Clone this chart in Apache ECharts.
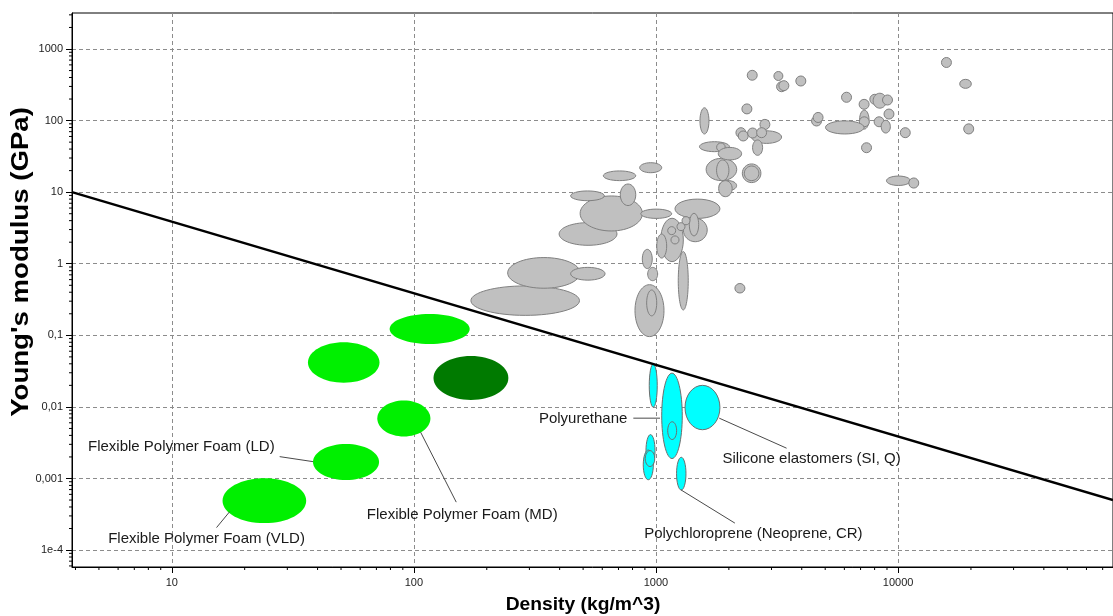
<!DOCTYPE html>
<html>
<head>
<meta charset="utf-8">
<title>Young's modulus vs density</title>
<script src="https://cdn.jsdelivr.net/npm/echarts@6/dist/echarts.min.js"></script>
<style>
  html, body { margin: 0; padding: 0; background: #fff; }
  #chart { width: 1113px; height: 616px; }
</style>
</head>
<body>
<div id="chart"></div>
<script>
// Each material: [density min, density max (kg/m^3), modulus min, modulus max (GPa)]
const otherMaterials = [
  [172, 483, 0.19, 0.49],
  [244, 486, 0.455, 1.22],
  [444, 616, 0.59, 0.89],
  [398, 690, 1.81, 3.75],
  [486, 879, 2.87, 8.85],
  [444, 612, 7.6, 10.4],
  [712, 825, 6.5, 13],
  [606, 825, 14.5, 19.8],
  [856, 1056, 18.7, 25.8],
  [865, 1161, 4.3, 5.8],
  [878, 965, 0.855, 1.59],
  [924, 1016, 0.58, 0.89],
  [819, 1079, 0.096, 0.51],
  [915, 1007, 0.187, 0.43],
  [1198, 1837, 4.3, 8.0],
  [1046, 1297, 1.07, 4.32],
  [1297, 1628, 2.03, 4.33],
  [1373, 1501, 2.45, 5.06],
  [1007, 1107, 1.2, 2.6],
  [1118, 1206, 2.55, 3.3],
  [1221, 1318, 2.9, 3.75],
  [1153, 1245, 1.89, 2.45],
  [1281, 1382, 3.5, 4.55],
  [1236, 1359, 0.226, 1.48],
  [2118, 2330, 0.39, 0.53],
  [1611, 2156, 14.5, 29.7],
  [1779, 2001, 14.5, 28.2],
  [1825, 2153, 10.5, 14.5],
  [1815, 2064, 8.65, 14.5],
  [2273, 2713, 13.6, 24.8],
  [2317, 2661, 14.5, 23.2],
  [1519, 1655, 65, 151],
  [1512, 2011, 36.8, 50.7],
  [1780, 1932, 36.9, 48.7],
  [1808, 2258, 28.2, 42.2],
  [2264, 2490, 124, 171],
  [2382, 2619, 366, 504],
  [3069, 3343, 363, 485],
  [3149, 3463, 253, 349],
  [3218, 3539, 262, 361],
  [3781, 4159, 304, 420],
  [2483, 3302, 48, 72],
  [2139, 2352, 57.7, 79.6],
  [2186, 2404, 51.9, 71.6],
  [2390, 2628, 57.1, 78.8],
  [2687, 2954, 75, 104],
  [2506, 2757, 32.7, 53.6],
  [2604, 2863, 57.7, 79.6],
  [5840, 6423, 180, 249],
  [6902, 7592, 144, 198],
  [7643, 8403, 169, 233],
  [7887, 8955, 149, 241],
  [8623, 9482, 165, 228],
  [8747, 9616, 105, 145],
  [6935, 7585, 76, 140],
  [6915, 7606, 82, 113],
  [7962, 8755, 82, 113],
  [8516, 9293, 67, 101],
  [4391, 4829, 84, 116],
  [4459, 4900, 94, 130],
  [5014, 7238, 65, 99],
  [7063, 7769, 35.6, 49],
  [10209, 11228, 57.7, 79.6],
  [15107, 16610, 552, 761],
  [17973, 20069, 282, 377],
  [18667, 20533, 65, 90],
  [8955, 11248, 12.4, 16.8],
  [11068, 12172, 11.4, 15.8]
];

// Flexible polymer foams (VLD, LD, MD) and two further flexible foams
const flexibleFoams = [
  [16.2, 35.9, 0.000238, 0.00101],
  [38.3, 71.8, 0.000955, 0.00304],
  [70.6, 117, 0.00385, 0.01225],
  [36.5, 72.1, 0.0218, 0.0801],
  [79.4, 170, 0.0759, 0.199]
];

// Denser foam shown in dark green
const denseFoams = [
  [120.5, 245.6, 0.01253, 0.0515]
];

// Elastomers: polyurethane, silicone, polychloroprene and others
const elastomers = [
  [938, 1012, 0.0099, 0.0399],
  [1056, 1284, 0.0019, 0.0296],
  [1118, 1217, 0.0035, 0.0062],
  [1318, 1837, 0.0048, 0.020],
  [909, 991, 0.00145, 0.0041],
  [886, 975, 0.00096, 0.0025],
  [903, 988, 0.00147, 0.00245],
  [1216, 1330, 0.00069, 0.00198]
];

// Selection guide line
const guideDensity = [3.87, 77230];
const guideModulus = [10, 0.000501];

// Axis ticks
const densityTicks = [10, 100, 1000, 10000];
const densityTickLabels = ['10', '100', '1000', '10000'];
const modulusTicks = [1e-4, 1e-3, 1e-2, 1e-1, 1, 10, 100, 1000];
const modulusTickLabels = ['1e-4', '0,001', '0,01', '0,1', '1', '10', '100', '1000'];

// Callout texts, the point each one refers to and where its leader ends
const calloutTexts = [
  'Flexible Polymer Foam (LD)',
  'Flexible Polymer Foam (VLD)',
  'Flexible Polymer Foam (MD)',
  'Polyurethane',
  'Silicone elastomers (SI, Q)',
  'Polychloroprene (Neoprene, CR)'
];
const calloutTargets = [
  [38.3, 0.00172],
  [17.35, 0.000345],
  [106.6, 0.00443],
  [1039, 0.00696],
  [1825, 0.00696],
  [1268, 0.000693]
];
const calloutLeaderEnds = [
  [27.9, 0.00202],
  [15.3, 0.000206],
  [149.6, 0.000467],
  [806, 0.00696],
  [3463, 0.00265],
  [2118, 0.000238]
];

// Text placement relative to the leader end (pixels)
const calloutLayout = [
  { dx: -5, dy: -10, align: 'right' },
  { dx: -10, dy: 11.6, align: 'center' },
  { dx: 6, dy: 12.7, align: 'center' },
  { dx: -6, dy: 0.7, align: 'right' },
  { dx: 25, dy: 11, align: 'center' },
  { dx: 18.5, dy: 10.7, align: 'center' }
];

const X_RANGE = [3.87, 77230];
const Y_RANGE = [5.8e-5, 3184];
const GRID = { left: 72, top: 13, width: 1042, height: 554 };
const FONT = '"Liberation Sans", Arial, sans-serif';

function labelFor(ticks, labels) {
  return function (v) {
    for (let i = 0; i < ticks.length; i++) {
      if (Math.abs(Math.log10(ticks[i]) - Math.log10(v)) < 1e-6) return labels[i];
    }
    return '';
  };
}

function ellipseSeries(name, rows, fill, stroke, z) {
  return {
    type: 'custom',
    name: name,
    coordinateSystem: 'cartesian2d',
    silent: true,
    clip: true,
    z: z,
    encode: { x: [0, 1], y: [2, 3] },
    data: rows,
    renderItem: function (params, api) {
      const a = api.coord([api.value(0), api.value(2)]);
      const b = api.coord([api.value(1), api.value(3)]);
      return {
        type: 'ellipse',
        shape: {
          cx: (a[0] + b[0]) / 2,
          cy: (a[1] + b[1]) / 2,
          rx: Math.abs(b[0] - a[0]) / 2,
          ry: Math.abs(b[1] - a[1]) / 2
        },
        style: { fill: fill, stroke: stroke, lineWidth: stroke ? 1 : 0 }
      };
    }
  };
}

const chart = echarts.init(document.getElementById('chart'), null, { renderer: 'canvas' });

const option = {
  animation: false,
  backgroundColor: '#ffffff',
  grid: Object.assign({ show: true, borderColor: '#000', borderWidth: 1, backgroundColor: 'transparent' }, GRID),
  xAxis: {
    type: 'log',
    logBase: 10,
    min: X_RANGE[0],
    max: X_RANGE[1],
    axisLine: { show: true, lineStyle: { color: '#000', width: 1 } },
    axisTick: { show: true, length: 6, customValues: densityTicks, lineStyle: { color: '#000' } },
    axisLabel: {
      customValues: densityTicks,
      formatter: labelFor(densityTicks, densityTickLabels),
      color: '#222', fontFamily: FONT, fontSize: 11, margin: 10
    },
    splitLine: { show: true, lineStyle: { color: '#8c8c8c', type: [4, 3], width: 1 } }
  },
  yAxis: {
    type: 'log',
    logBase: 10,
    min: Y_RANGE[0],
    max: Y_RANGE[1],
    axisLine: { show: true, lineStyle: { color: '#000', width: 1 } },
    axisTick: { show: true, length: 6, customValues: modulusTicks, lineStyle: { color: '#000' } },
    axisLabel: {
      customValues: modulusTicks,
      formatter: labelFor(modulusTicks, modulusTickLabels),
      color: '#222', fontFamily: FONT, fontSize: 11, margin: 9
    },
    splitLine: { show: true, lineStyle: { color: '#8c8c8c', type: [4, 3], width: 1 } }
  },
  series: [
    ellipseSeries('Other materials', otherMaterials, '#c0c0c0', '#808080', 2),
    ellipseSeries('Flexible foams', flexibleFoams, '#00f000', null, 3),
    ellipseSeries('Dense foams', denseFoams, '#007a00', null, 3),
    ellipseSeries('Elastomers', elastomers, '#00ffff', '#6e6e6e', 3),
    {
      type: 'line',
      name: 'Guide',
      silent: true,
      z: 4,
      symbol: 'none',
      data: guideDensity.map((d, i) => [d, guideModulus[i]]),
      lineStyle: { color: '#000', width: 2.5 }
    },
    {
      type: 'custom',
      name: 'Callouts',
      coordinateSystem: 'cartesian2d',
      silent: true,
      clip: false,
      z: 5,
      data: calloutTargets.map((t, i) => [t[0], t[1], calloutLeaderEnds[i][0], calloutLeaderEnds[i][1]]),
      encode: { x: [0, 2], y: [1, 3] },
      renderItem: function (params, api) {
        const i = params.dataIndex;
        const p = api.coord([api.value(0), api.value(1)]);
        const q = api.coord([api.value(2), api.value(3)]);
        const lay = calloutLayout[i];
        return {
          type: 'group',
          children: [
            {
              type: 'line',
              shape: { x1: q[0], y1: q[1], x2: p[0], y2: p[1] },
              style: { stroke: '#4a4a4a', lineWidth: 1 }
            },
            {
              type: 'text',
              x: q[0] + lay.dx,
              y: q[1] + lay.dy,
              style: {
                text: calloutTexts[i],
                fill: '#1a1a1a',
                font: '15px ' + FONT,
                align: lay.align,
                verticalAlign: 'middle'
              }
            }
          ]
        };
      }
    }
  ],
  graphic: [
    {
      type: 'text',
      id: 'yTitle',
      x: 22,
      y: 262,
      rotation: Math.PI / 2,
      scaleX: 1.2,
      style: {
        text: "Young's modulus (GPa)",
        fill: '#000',
        font: 'bold 23px ' + FONT,
        align: 'center',
        verticalAlign: 'middle'
      }
    },
    {
      type: 'text',
      id: 'xTitle',
      x: 583,
      y: 605,
      scaleX: 1.07,
      style: {
        text: 'Density (kg/m^3)',
        fill: '#000',
        font: 'bold 18px ' + FONT,
        align: 'center',
        verticalAlign: 'middle'
      }
    }
  ]
};

chart.setOption(option);

// Minor ticks at 2..9 of every decade, placed through the axes' own log scales
function addMinorTicks() {
  const els = [];
  const x0 = GRID.left;
  const yb = GRID.top + GRID.height;
  for (let e = 0; e <= 4; e++) {
    for (let k = 2; k <= 9; k++) {
      const v = k * Math.pow(10, e);
      if (v <= X_RANGE[0] || v >= X_RANGE[1]) continue;
      const px = chart.convertToPixel({ xAxisIndex: 0 }, v);
      els.push({ type: 'line', silent: true, shape: { x1: px, y1: yb, x2: px, y2: yb + 3 }, style: { stroke: '#000', lineWidth: 1 } });
    }
  }
  for (let e = -5; e <= 3; e++) {
    for (let k = 2; k <= 9; k++) {
      const v = k * Math.pow(10, e);
      if (v <= Y_RANGE[0] || v >= Y_RANGE[1]) continue;
      const py = chart.convertToPixel({ yAxisIndex: 0 }, v);
      els.push({ type: 'line', silent: true, shape: { x1: x0 - 3, y1: py, x2: x0, y2: py }, style: { stroke: '#000', lineWidth: 1 } });
    }
  }
  chart.setOption({ graphic: option.graphic.concat(els) });
}
addMinorTicks();
</script>
</body>
</html>
